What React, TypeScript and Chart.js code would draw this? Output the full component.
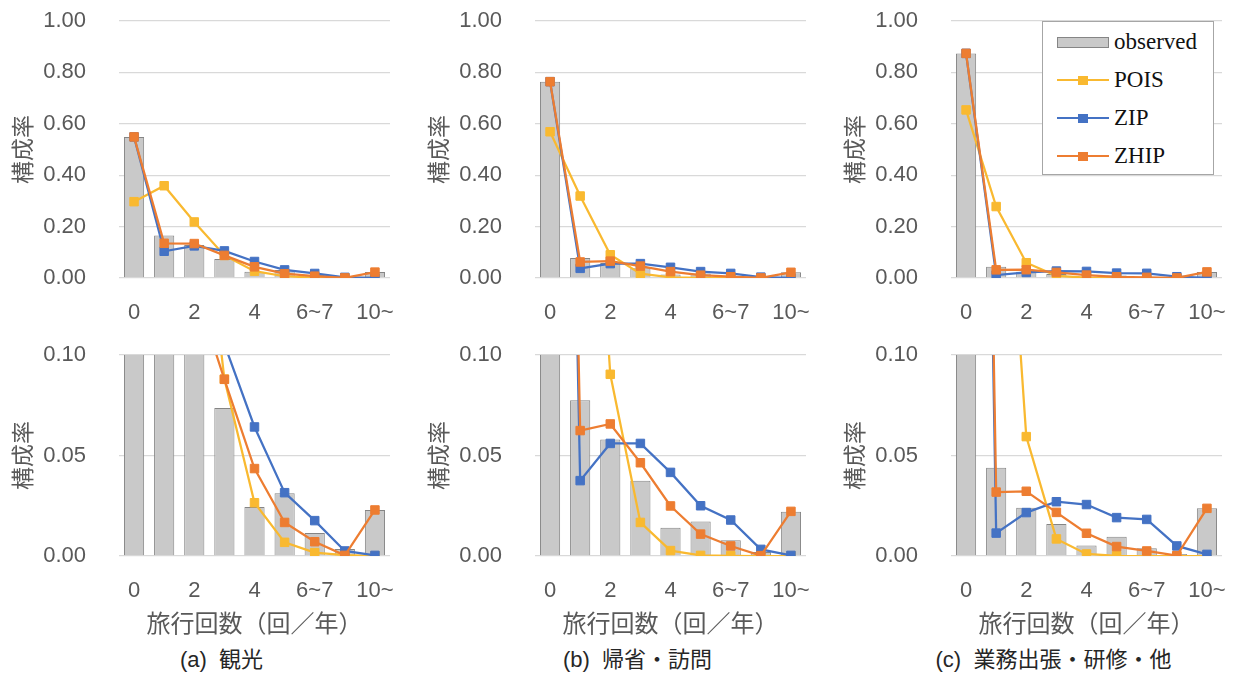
import React, { useEffect, useRef } from "react";
import { Chart, registerables } from "chart.js";

Chart.register(...registerables);

// ---------- data ----------
const categories = ["0", "1", "2", "3", "4", "5", "6~7", "8~9", "10~"];
const shownTickIndexes = [0, 2, 4, 6, 8];

const observedA = [0.549, 0.165, 0.128, 0.0736, 0.0244, 0.0312, 0.0114, 0.0035, 0.0229];
const poisA = [0.297, 0.359, 0.218, 0.088, 0.0265, 0.0068, 0.0017, 0.0004, 0.0001];
const zipA = [0.549, 0.104, 0.125, 0.1054, 0.0642, 0.0315, 0.0176, 0.0025, 0.0003];
const zhipA = [0.549, 0.135, 0.134, 0.0879, 0.0435, 0.0167, 0.0071, 0.0003, 0.0229];

const observedB = [0.764, 0.0775, 0.058, 0.0375, 0.0141, 0.0172, 0.0078, 0.002, 0.022];
const poisB = [0.569, 0.319, 0.0904, 0.0167, 0.0027, 0.0003, 0.0001, 0.0, 0.0];
const zipB = [0.764, 0.0375, 0.056, 0.056, 0.0416, 0.025, 0.0179, 0.0033, 0.0003];
const zhipB = [0.764, 0.0624, 0.0657, 0.0464, 0.0249, 0.0109, 0.005, 0.0002, 0.0222];

const observedC = [0.874, 0.0439, 0.024, 0.0159, 0.0052, 0.0096, 0.0038, 0.001, 0.0237];
const poisC = [0.654, 0.278, 0.0594, 0.0085, 0.001, 0.0001, 0.0, 0.0, 0.0];
const zipC = [0.874, 0.0114, 0.0216, 0.027, 0.0256, 0.0191, 0.0182, 0.005, 0.0008];
const zhipC = [0.874, 0.0318, 0.0322, 0.0217, 0.0113, 0.0047, 0.0025, 0.0002, 0.0237];

const seriesNames = ["observed", "POIS", "ZIP", "ZHIP"];
const yTitle = "構成率";
const xTitle = "旅行回数（回／年）";
const captions = ["(a)  観光", "(b)  帰省・訪問", "(c)  業務出張・研修・他"];

// ---------- styles ----------
const GOLD = "#F9B930";
const BLUE = "#4472C4";
const ORANGE = "#ED7D31";
const BAR_FILL = "#C9C9C9";
const BAR_BORDER = "#858585";
const TEXT = "#595959";
const GRID = "#D9D9D9";
const SANS = "'Liberation Sans', Arial, 'Noto Sans CJK JP', sans-serif";
const CJK = "'Noto Sans CJK JP', 'Liberation Sans', sans-serif";

const COL_LEFTS = [0, 416, 832];
const Y_AXIS_W = 119;
const PLOT_W = 271;
const CANVAS_W = Y_AXIS_W + PLOT_W + 10;

type PanelProps = {
  observed: number[];
  pois: number[];
  zip: number[];
  zhip: number[];
  max: number;
  step: number;
  left: number;
  top: number;
  bottomRow: boolean;
};

function lineDataset(label: string, data: number[], color: string, order: number) {
  return {
    type: "line" as const,
    label,
    data,
    borderColor: color,
    backgroundColor: color,
    borderWidth: 2.25,
    pointStyle: "rect" as const,
    pointRadius: 6,
    pointBorderWidth: 1,
    pointBorderColor: color,
    pointBackgroundColor: color,
    tension: 0,
    order,
  };
}

function Panel(p: PanelProps) {
  const ref = useRef<HTMLCanvasElement>(null);
  const plotH = p.bottomRow ? 201 : 257;
  const xAxisH = p.bottomRow ? 85 : 50;
  const padTop = 21;
  const canvasH = padTop + plotH + xAxisH;

  useEffect(() => {
    const chart = new Chart(ref.current as HTMLCanvasElement, {
      type: "bar",
      data: {
        labels: categories,
        datasets: [
          lineDataset(seriesNames[3], p.zhip, ORANGE, 1),
          lineDataset(seriesNames[2], p.zip, BLUE, 2),
          lineDataset(seriesNames[1], p.pois, GOLD, 3),
          {
            type: "bar" as const,
            label: seriesNames[0],
            data: p.observed,
            backgroundColor: BAR_FILL,
            borderColor: BAR_BORDER,
            borderWidth: 1,
            barPercentage: 0.67,
            categoryPercentage: 1,
            order: 4,
          },
        ] as any,
      },
      options: {
        responsive: false,
        animation: false,
        layout: { padding: { top: padTop, right: 10, left: 0, bottom: 0 } },
        plugins: { legend: { display: false }, tooltip: { enabled: false } },
        scales: {
          x: {
            grid: { display: false, drawTicks: false },
            border: { display: false },
            ticks: {
              autoSkip: false,
              maxRotation: 0,
              padding: 22,
              color: TEXT,
              font: { family: SANS, size: 22 },
              callback: (_v: any, i: number) =>
                shownTickIndexes.includes(i) ? categories[i] : "",
            },
            title: {
              display: p.bottomRow,
              text: xTitle,
              color: TEXT,
              font: { family: CJK, size: 24 },
              padding: { top: 0, bottom: 4 },
            },
            afterFit: (s: any) => {
              s.height = xAxisH;
              s.paddingLeft = 0;
              s.paddingRight = 0;
              s.paddingTop = 0;
              s.paddingBottom = 0;
            },
          },
          y: {
            min: 0,
            max: p.max,
            ticks: {
              stepSize: p.step,
              padding: 33,
              color: TEXT,
              font: { family: SANS, size: 22 },
              callback: (v: any) => Number(v).toFixed(2),
            },
            grid: { color: GRID, lineWidth: 1.3, drawTicks: false },
            border: { display: false },
            title: {
              display: true,
              text: yTitle,
              color: TEXT,
              font: { family: CJK, size: 23 },
              padding: { top: 8, bottom: 0 },
            },
            afterFit: (s: any) => {
              s.width = Y_AXIS_W;
              s.paddingLeft = 0;
              s.paddingRight = 0;
              s.paddingTop = 0;
              s.paddingBottom = 0;
            },
          },
        },
      } as any,
    });
    return () => chart.destroy();
  }, []);

  return (
    <canvas
      ref={ref}
      width={CANVAS_W}
      height={canvasH}
      style={{ position: "absolute", left: p.left, top: p.top, width: CANVAS_W, height: canvasH }}
    />
  );
}

function LegendRow({ y, name, color, bar }: { y: number; name: string; color?: string; bar?: boolean }) {
  return (
    <div style={{ position: "absolute", left: 0, top: y - 15, height: 30, width: 170 }}>
      {bar ? (
        <div
          style={{
            position: "absolute",
            left: 14,
            top: 10,
            width: 50,
            height: 9,
            background: BAR_FILL,
            border: `1px solid ${BAR_BORDER}`,
          }}
        />
      ) : (
        <>
          <div style={{ position: "absolute", left: 14, top: 14, width: 52, height: 2.25, background: color }} />
          <div style={{ position: "absolute", left: 35, top: 10.5, width: 9.5, height: 9.5, background: color }} />
        </>
      )}
      <div
        style={{
          position: "absolute",
          left: 71,
          top: 0,
          height: 30,
          lineHeight: "30px",
          fontFamily: "'Liberation Serif', 'Times New Roman', serif",
          fontSize: 23,
          color: "#111",
          whiteSpace: "nowrap",
        }}
      >
        {name}
      </div>
    </div>
  );
}

export default function App() {
  const panels = [
    { observed: observedA, pois: poisA, zip: zipA, zhip: zhipA },
    { observed: observedB, pois: poisB, zip: zipB, zhip: zhipB },
    { observed: observedC, pois: poisC, zip: zipC, zhip: zhipC },
  ];
  return (
    <div
      style={{
        position: "absolute",
        left: 0,
        top: 0,
        width: 1233,
        height: 675,
        background: "#fff",
        overflow: "hidden",
      }}
    >
      {panels.map((d, i) => (
        <Panel key={"t" + i} {...d} max={1} step={0.2} left={COL_LEFTS[i]} top={0} bottomRow={false} />
      ))}
      {panels.map((d, i) => (
        <Panel key={"b" + i} {...d} max={0.1} step={0.05} left={COL_LEFTS[i]} top={334} bottomRow={true} />
      ))}
      {captions.map((c, i) => (
        <div
          key={"c" + i}
          style={{
            position: "absolute",
            left: COL_LEFTS[i] + Y_AXIS_W + PLOT_W / 2 - 33 - 200,
            width: 400,
            top: 647,
            height: 26,
            lineHeight: "26px",
            textAlign: "center",
            fontFamily: SANS,
            fontSize: 22,
            color: "#262626",
            whiteSpace: "pre",
          }}
        >
          {c}
        </div>
      ))}
      <div
        style={{
          position: "absolute",
          left: 1042,
          top: 21,
          width: 170,
          height: 152,
          border: "1px solid #A6A6A6",
          background: "#fff",
        }}
      >
        <LegendRow y={20} name={seriesNames[0]} bar />
        <LegendRow y={58} name={seriesNames[1]} color={GOLD} />
        <LegendRow y={96} name={seriesNames[2]} color={BLUE} />
        <LegendRow y={134} name={seriesNames[3]} color={ORANGE} />
      </div>
    </div>
  );
}
